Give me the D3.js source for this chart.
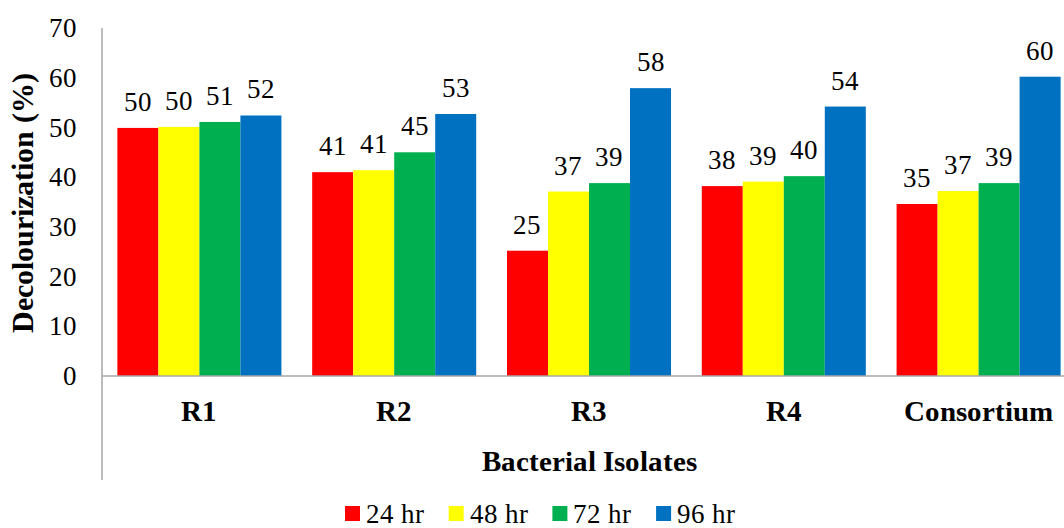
<!DOCTYPE html>
<html>
<head>
<meta charset="utf-8">
<script src="https://cdn.jsdelivr.net/npm/d3@7"></script>
<style>
  @font-face { font-family: "ChartSerif"; src: local("Liberation Serif"), local("LiberationSerif"), local("Liberation Serif Regular"); font-weight: 400; }
  @font-face { font-family: "ChartSerif"; src: local("Liberation Serif Bold"), local("LiberationSerif-Bold"); font-weight: 700; }
  html, body { margin: 0; padding: 0; background: #fff; }
  svg { display: block; }
  #chart text { font-family: "ChartSerif", "Liberation Serif", serif; fill: #000; }
</style>
</head>
<body>
<svg id="chart" width="1064" height="528"></svg>
<script>
// Decolourization (%) by bacterial isolate and incubation time
const isolates = ["R1", "R2", "R3", "R4", "Consortium"];
const seriesNames = ["24 hr", "48 hr", "72 hr", "96 hr"];
const seriesColors = ["#ff0000", "#ffff00", "#00b050", "#0070c0"];
const values24 = [49.9, 41.0, 25.2, 38.2, 34.6];
const values48 = [50.1, 41.4, 37.1, 39.1, 37.2];
const values72 = [51.1, 45.0, 38.8, 40.2, 38.8];
const values96 = [52.4, 52.7, 57.9, 54.2, 60.2];
const yTicks = [0, 10, 20, 30, 40, 50, 60, 70];

const FONT = "ChartSerif, Liberation Serif, serif";

const seriesValues = [values24, values48, values72, values96];
const rows = isolates.map((name, i) => ({
  name,
  vals: seriesNames.map((s, j) => ({ series: s, color: seriesColors[j], value: seriesValues[j][i] }))
}));

const svg = d3.select("#chart");
const plot = { left: 102, right: 1076, top: 28, bottom: 376 };

const x0 = d3.scaleBand()
  .domain(isolates)
  .range([plot.left, plot.right])
  .paddingInner(0.158)
  .paddingOuter(0.079);

const x1 = d3.scaleBand()
  .domain(seriesNames)
  .range([0, x0.bandwidth()])
  .padding(0);

const y = d3.scaleLinear().domain([0, 70]).range([plot.bottom, plot.top]);

// bars
const groups = svg.append("g").selectAll("g")
  .data(rows).join("g")
  .attr("transform", d => `translate(${x0(d.name)},0)`);

groups.selectAll("rect")
  .data(d => d.vals).join("rect")
  .attr("x", d => x1(d.series))
  .attr("y", d => y(d.value))
  .attr("width", x1.bandwidth())
  .attr("height", d => y(0) - y(d.value))
  .attr("fill", d => d.color);

// value labels
const fmt = d3.format(".0f");
groups.selectAll("text.val")
  .data(d => d.vals).join("text")
  .attr("class", "val")
  .attr("x", d => x1(d.series) + x1.bandwidth() / 2)
  .attr("y", d => y(d.value) - 17)
  .attr("text-anchor", "middle")
  .attr("font-family", FONT)
  .attr("font-size", 27)
  .text(d => fmt(d.value));

// y axis
const yAxis = d3.axisLeft(y).tickValues(yTicks).tickSize(0).tickPadding(25).tickFormat(d3.format("d"));
const gy = svg.append("g").attr("transform", `translate(${plot.left},0)`).call(yAxis)
  .attr("font-family", FONT).attr("font-size", 27);
gy.select(".domain").remove();

svg.append("line")
  .attr("x1", plot.left).attr("x2", plot.left)
  .attr("y1", plot.top).attr("y2", 480)
  .attr("stroke", "#a6a6a6").attr("stroke-width", 1.5);

// x axis
const xAxis = d3.axisBottom(x0).tickSize(0).tickPadding(24);
const gx = svg.append("g").attr("transform", `translate(0,${plot.bottom})`).call(xAxis)
  .attr("font-family", FONT).attr("font-size", 29).attr("font-weight", "bold");
gx.select(".domain").remove();

svg.append("line")
  .attr("x1", plot.left).attr("x2", plot.right)
  .attr("y1", plot.bottom).attr("y2", plot.bottom)
  .attr("stroke", "#a6a6a6").attr("stroke-width", 1.5);

// axis titles
svg.append("text")
  .attr("x", (plot.left + plot.right) / 2)
  .attr("y", 471)
  .attr("text-anchor", "middle")
  .attr("font-family", FONT)
  .attr("font-size", 29).attr("font-weight", "bold")
  .text("Bacterial Isolates");

svg.append("text")
  .attr("transform", "translate(33,203) rotate(-90)")
  .attr("text-anchor", "middle")
  .attr("font-family", FONT)
  .attr("font-size", 30).attr("font-weight", "bold")
  .text("Decolourization (%)");

// legend
const legend = svg.append("g").attr("transform", "translate(345,506)");
const items = legend.selectAll("g").data(seriesNames).join("g")
  .attr("transform", (d, i) => `translate(${i * 103.7},0)`);
items.append("rect").attr("width", 15).attr("height", 15)
  .attr("fill", (d, i) => seriesColors[i]);
items.append("text").attr("x", 21).attr("y", 17)
  .attr("font-family", FONT)
  .attr("font-size", 27).text(d => d);
</script>
</body>
</html>
